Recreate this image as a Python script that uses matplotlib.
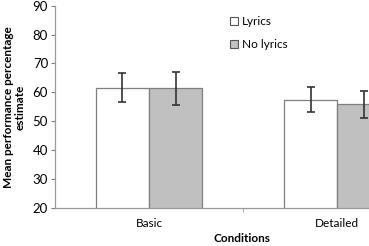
"""Mean performance percentage estimate by condition, lyrics vs no lyrics"""

import matplotlib

matplotlib.use("Agg")
import matplotlib.pyplot as plt
import numpy as np
from matplotlib.patches import Patch

CONDITIONS = ["Basic", "Detailed"]
LYRICS_MEAN = [61.6, 57.5]
LYRICS_ERR = [5.0, 4.4]
NOLYRICS_MEAN = [61.4, 55.8]
NOLYRICS_ERR = [5.8, 4.6]
Y_TICKS = [20, 30, 40, 50, 60, 70, 80, 90]

plt.rcParams["font.family"] = ["Lato", "DejaVu Sans"]

fig = plt.figure(figsize=(3.69, 2.46), dpi=100)
ax = fig.add_axes([0.149, 0.155, 1.02, 0.822])

x = np.arange(len(CONDITIONS))
w = 0.283
err_kw = dict(ecolor="#333333", elinewidth=1.2, capsize=2.6, capthick=1.2)
ax.bar(x - w / 2, LYRICS_MEAN, w, yerr=LYRICS_ERR, color="white",
       edgecolor="#7f7f7f", linewidth=0.9, error_kw=err_kw, label="Lyrics")
ax.bar(x + w / 2, NOLYRICS_MEAN, w, yerr=NOLYRICS_ERR, color="#c0c0c0",
       edgecolor="#7f7f7f", linewidth=0.9, error_kw=err_kw, label="No lyrics")

ax.set_xlim(-0.5, 1.5)
ax.set_ylim(20, 90)
ax.set_yticks(Y_TICKS)
ax.tick_params(axis="y", labelsize=9.5, length=3, color="#7f7f7f", pad=2)
ax.set_xticks([0.5])
ax.set_xticklabels([""])
ax.tick_params(axis="x", length=3, color="#b0b0b0")
for xi, name in zip(x, CONDITIONS):
    ax.text(xi, -0.05, name, transform=ax.get_xaxis_transform(),
            ha="center", va="top", fontsize=8.5)

for side in ("top", "right"):
    ax.spines[side].set_visible(False)
for side in ("left", "bottom"):
    ax.spines[side].set_color("#9a9a9a")
    ax.spines[side].set_linewidth(0.9)

fig.text(0.655, 0.01, "Conditions", ha="center", va="bottom",
         fontsize=8.5, fontweight="bold")
fig.text(0.038, 0.565, "Mean performance percentage\nestimate", ha="center",
         va="center", rotation=90, fontsize=8.5, fontweight="bold",
         linespacing=1.1)

handles = [Patch(facecolor="white", edgecolor="#555555", linewidth=0.8),
           Patch(facecolor="#c0c0c0", edgecolor="#555555", linewidth=0.8)]
fig.legend(handles, ["Lyrics", "No lyrics"], loc="upper left",
           bbox_to_anchor=(0.61, 0.955), frameon=False, fontsize=8.5,
           handlelength=0.7, handleheight=0.7, handletextpad=0.3,
           labelspacing=1.05, borderaxespad=0)

fig.savefig("out.png", dpi=100)
